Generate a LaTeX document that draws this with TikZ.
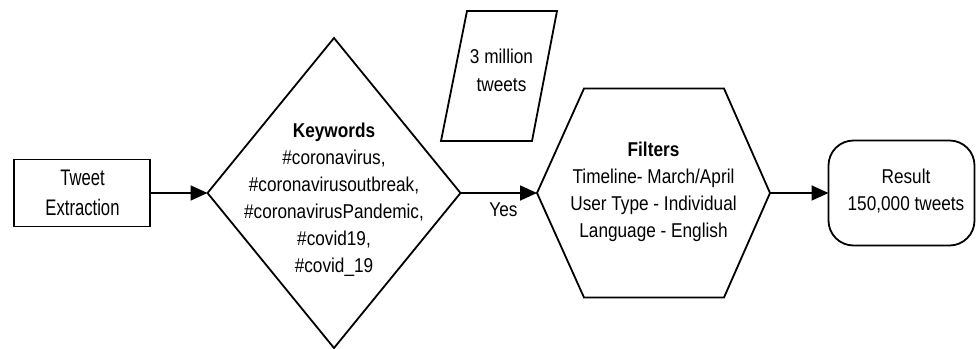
\documentclass[tikz,border=0pt]{standalone}
\usepackage{fontspec}
\setmainfont[FakeStretch=0.86]{Liberation Sans}
\newfontfamily\tweetfont[FakeStretch=0.74]{Liberation Sans}
\usetikzlibrary{arrows.meta,shapes.geometric}
\begin{document}
\begin{tikzpicture}[x=1pt,y=-1pt,
  shapeline/.style={draw=black,line width=1.8pt,line join=miter},
  txt/.style={inner sep=0pt,align=center,font=\fontsize{20pt}{27pt}\selectfont,anchor=north},
  conn/.style={line width=1.8pt,-{Triangle[length=17pt,width=15pt]}},
  frame/.style={inner sep=0pt,outer sep=0pt}]
\useasboundingbox (0,0) rectangle (976,348);
% Tweet Extraction
\node[frame,shapeline,rectangle,minimum width=136pt,minimum height=67pt] (tweet) at (82,193) {};
\node[txt,font=\tweetfont\fontsize{22.5pt}{30pt}\selectfont] (tweettxt) at (82.5,170) {Tweet\\Extraction};
% Keywords diamond
\node[frame,shapeline,diamond,minimum width=253pt,minimum height=310pt] (kw) at (334,193) {};
\node[txt] (kwtxt) at (334,123) {\textbf{Keywords}\\\#coronavirus,\\\#coronavirusoutbreak,\\\#coronavirusPandemic,\\\#covid19,\\\#covid\_19};
% 3 million tweets parallelogram
\draw[shapeline] (467,11) -- (557,11) -- (532,141) -- (441,141) -- cycle;
\node[txt,font=\fontsize{20pt}{28pt}\selectfont] (vol) at (501.5,49) {3 million\\tweets};
% Filters hexagon
\node[frame,minimum width=233pt,minimum height=209pt] (filt) at (653.5,193) {};
\draw[shapeline] (filt.west) -- ([xshift=47pt]filt.north west) -- ([xshift=-46pt]filt.north east)
  -- (filt.east) -- ([xshift=-46pt]filt.south east) -- ([xshift=47pt]filt.south west) -- cycle;
\node[txt] (filttxt) at (653.5,142) {\textbf{Filters}\\Timeline- March/April\\User Type - Individual\\Language - English};
% Result
\node[frame,shapeline,rectangle,rounded corners=25pt,minimum width=146pt,minimum height=105pt] (res) at (901.5,193) {};
\node[txt] (restxt) at (906,169) {Result\\150,000 tweets};
% connectors
\draw[conn] (tweet.east) -- (kw.west);
\draw[conn] (kw.east) -- (filt.west);
\draw[conn] (filt.east) -- (res.west);
\node[txt] (yes) at (503.5,203) {Yes};
\end{tikzpicture}
\end{document}
